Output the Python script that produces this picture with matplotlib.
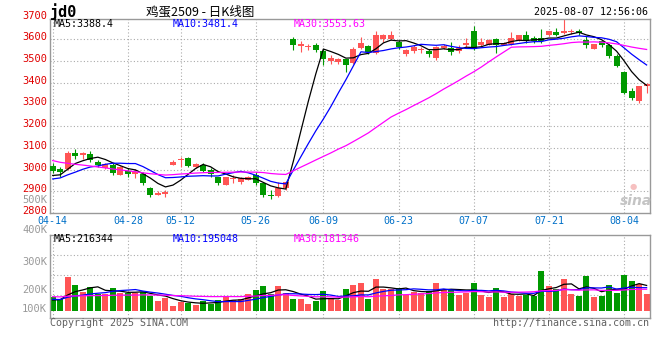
"""Daily K-line chart of egg futures jd2509 with volume panel (sina style)."""
import numpy as np
import pandas as pd
import matplotlib
matplotlib.use("Agg")
import matplotlib.pyplot as plt
from matplotlib.transforms import blended_transform_factory, ScaledTranslation

# trading days 2025-04-14 .. 2025-08-07 (exchange holidays removed)
holidays = ["2025-05-01", "2025-05-02", "2025-05-05", "2025-06-02"]
dates = pd.bdate_range("2025-04-14", "2025-08-07")
dates = dates[~dates.isin(pd.to_datetime(holidays))]
tick_dates = ["04-14", "04-28", "05-12", "05-26", "06-09", "06-23", "07-07", "07-21", "08-04"]

open_ = [3017, 3003, 3002, 3078, 3065, 3072, 3036, 3006, 3022, 2976,
         2994, 2979, 2980, 2914, 2881, 2887, 3019, 3043, 3052, 3014,
         3022, 2999, 2964, 2927, 2956, 2945, 2953, 2976, 2937, 2884,
         2879, 2914, 3603, 3571, 3564, 3575, 3545, 3499, 3496, 3508,
         3493, 3560, 3569, 3539, 3603, 3603, 3588, 3534, 3545, 3549,
         3546, 3514, 3560, 3560, 3545, 3572, 3637, 3572, 3575, 3601,
         3575, 3580, 3598, 3618, 3606, 3606, 3618, 3634, 3629, 3634,
         3641, 3598, 3557, 3591, 3575, 3525, 3450, 3364, 3315, 3384]
high = [3029, 3014, 3086, 3094, 3080, 3086, 3045, 3032, 3029, 3016,
        3006, 3002, 2991, 2922, 2902, 2907, 3045, 3056, 3057, 3029,
        3029, 3006, 2968, 2966, 2973, 2968, 2972, 2991, 2945, 2907,
        2945, 2945, 3611, 3592, 3578, 3582, 3557, 3529, 3514, 3511,
        3565, 3611, 3572, 3641, 3626, 3641, 3595, 3557, 3572, 3565,
        3557, 3569, 3580, 3588, 3572, 3606, 3664, 3606, 3603, 3606,
        3588, 3634, 3621, 3637, 3614, 3649, 3640, 3652, 3693, 3649,
        3647, 3614, 3580, 3598, 3578, 3532, 3453, 3376, 3387, 3399]
low = [2984, 2965, 2996, 3048, 3048, 3036, 3014, 3002, 2976, 2974,
       2965, 2961, 2927, 2873, 2881, 2872, 3019, 3014, 3014, 3006,
       2991, 2968, 2927, 2927, 2937, 2934, 2950, 2930, 2873, 2865,
       2873, 2907, 3549, 3542, 3552, 3542, 3480, 3486, 3488, 3450,
       3488, 3554, 3534, 3534, 3588, 3595, 3557, 3523, 3539, 3539,
       3519, 3503, 3554, 3529, 3539, 3560, 3552, 3563, 3572, 3537,
       3572, 3575, 3594, 3583, 3583, 3583, 3614, 3614, 3624, 3624,
       3621, 3560, 3555, 3563, 3514, 3473, 3348, 3319, 3307, 3353]
close = [2994, 2991, 3078, 3063, 3078, 3045, 3022, 3025, 2984, 3014,
         2979, 2991, 2938, 2881, 2892, 2899, 3033, 3049, 3017, 3026,
         2994, 2979, 2937, 2964, 2960, 2960, 2968, 2937, 2881, 2879,
         2914, 2941, 3572, 3577, 3569, 3549, 3511, 3514, 3511, 3483,
         3557, 3585, 3542, 3618, 3618, 3621, 3565, 3549, 3565, 3554,
         3531, 3565, 3569, 3542, 3560, 3584, 3557, 3588, 3598, 3575,
         3583, 3606, 3618, 3591, 3594, 3591, 3637, 3618, 3640, 3640,
         3629, 3575, 3578, 3572, 3525, 3479, 3353, 3330, 3384, 3396]
volume = [115, 100, 291, 220, 162, 205, 143, 143, 194, 151,
          154, 148, 162, 126, 85, 105, 40, 74, 68, 51,
          85, 57, 91, 126, 91, 97, 143, 177, 211, 143,
          211, 154, 100, 100, 57, 85, 171, 106, 91, 186,
          220, 237, 97, 271, 186, 186, 191, 134, 162, 148,
          171, 237, 177, 186, 134, 154, 237, 134, 120, 194,
          120, 143, 126, 134, 126, 339, 211, 183, 271, 143,
          126, 297, 120, 126, 220, 151, 305, 254, 228, 143]  # thousand lots

# sessions before 04-14, only needed to seed the moving averages
hist_close = [3230, 3215, 3200, 3185, 3170, 3160, 3150, 3140, 3130, 3120,
              3105, 3100, 3000, 2990, 2985, 2975, 2965, 2960, 2950, 2945,
              2945, 2935, 2940, 2945, 2940, 2976, 2948, 2933, 3014]
hist_volume = [150, 120, 140, 135, 160, 125, 118, 142, 130, 128,
               150, 110, 135, 122, 140, 128, 120, 132, 125, 120,
               110, 95, 108, 100, 102, 80, 92, 78, 90]

ma_windows = [5, 10, 30]
price_ma_text = ["MA5:3388.4", "MA10:3481.4", "MA30:3553.63"]
volume_ma_text = ["MA5:216344", "MA10:195048", "MA30:181346"]
price_ticks = list(range(2800, 3800, 100))
volume_tick_text = ["500K", "400K", "300K", "200K", "100K"]

RED = "#ff5555"
GREEN = "#009900"
MA_COLORS = ["black", "#0000ff", "#ff00ff"]
GRID = dict(color="#aaaaaa", linestyle=(0, (1, 2)), linewidth=0.8)
MONO = "DejaVu Sans Mono"
W, H = 660, 360


def moving_avg(hist, vals, n):
    s = pd.Series(list(hist) + list(vals), dtype=float)
    return s.rolling(n).mean().to_numpy()[len(hist):]


def box(l, t, r, b):
    return [l / W, 1 - b / H, (r - l) / W, (b - t) / H]


def ftext(x, y, s, **kw):
    fig.text(x / W, 1 - y / H, s, **kw)


def style_axes(a):
    for sp in a.spines.values():
        sp.set_color("#999999")
        sp.set_linewidth(1.0)
    a.tick_params(length=0)
    a.grid(True, **GRID)
    a.set_axisbelow(True)


fig = plt.figure(figsize=(W / 100, H / 100), dpi=100)
ax = fig.add_axes(box(50, 19, 650, 213))
axv = fig.add_axes(box(50, 235, 650, 318))

x = np.arange(len(close))
o = np.array(open_, dtype=float)
c = np.array(close, dtype=float)
up = c >= o
colors = np.where(up, RED, GREEN)
labels = [d.strftime("%m-%d") for d in dates]
tick_idx = [labels.index(t) for t in tick_dates]

# candles
ax.vlines(x, low, high, colors=colors, linewidth=0.8, zorder=2)
ax.bar(x, np.maximum(np.abs(c - o), 4), bottom=np.minimum(o, c), width=0.8,
       color=colors, linewidth=0, zorder=3)
for n, col in zip(ma_windows, MA_COLORS):
    ax.plot(x, moving_avg(hist_close, close, n), color=col, linewidth=0.9, zorder=4)

ax.set_xlim(-0.36, 79.45)
ax.set_ylim(2800, 3694)
ax.set_yticks(price_ticks[1:-1])
ax.set_yticklabels([])
ax.set_xticks(tick_idx)
ax.set_xticklabels(tick_dates, color="#0070c8", fontsize=7.2, family=MONO)
style_axes(ax)
ax.tick_params(axis="x", pad=2.5)

trans = blended_transform_factory(ax.transAxes, ax.transData) + \
    ScaledTranslation(-0.03, 0.02, fig.dpi_scale_trans)
for v in price_ticks:
    ax.text(0, v, str(v), transform=trans, ha="right", va="center",
            color="#e00000", fontsize=7.5, family=MONO, clip_on=False)

# volume
vol = np.array(volume) * 1000
axv.bar(x, vol, width=0.8, color=colors, linewidth=0, zorder=2)
for n, col in zip(ma_windows, MA_COLORS):
    axv.plot(x, moving_avg(hist_volume, volume, n) * 1000, color=col,
             linewidth=0.9, zorder=3)
vlo, vhi = -62000, 647000
axv.set_xlim(ax.get_xlim())
axv.set_ylim(vlo, vhi)
axv.set_xticks(tick_idx)
axv.set_xticklabels([])
axv.set_yticks([vlo + f * (vhi - vlo) for f in (0.277, 0.518, 0.759)])
axv.set_yticklabels([])
style_axes(axv)

for s, yp in zip(volume_tick_text, [200, 230, 262, 290, 309]):
    ftext(47, yp, s, ha="right", va="center", color="#999999",
          fontsize=7.5, family=MONO)

# legends with latest MA values
for s, xp, col in zip(price_ma_text, [54, 173, 294], MA_COLORS):
    ftext(xp, 24, s, ha="left", va="center", color=col, fontsize=7.2, family=MONO)
for s, xp, col in zip(volume_ma_text, [54, 173, 294], MA_COLORS):
    ftext(xp, 238.5, s, ha="left", va="center", color=col, fontsize=7.2, family=MONO)

# headers and footers
ftext(50, 12, "jd0", ha="left", va="center", fontsize=11, weight="bold", family=MONO)
ftext(200, 11.5, "鸡蛋2509 - 日K线图", ha="center", va="center", fontsize=9,
      family=["Noto Sans CJK SC", "DejaVu Sans"])
ftext(648, 12, "2025-08-07 12:56:06", ha="right", va="center", fontsize=7.2, family=MONO)
ftext(50, 323, "Copyright 2025 SINA.COM", ha="left", va="center",
      color="#606060", fontsize=7.2, family=MONO)
ftext(649, 323, "http://finance.sina.com.cn", ha="right", va="center",
      color="#606060", fontsize=7.2, family=MONO)
ftext(636, 201, "sina", ha="center", va="center", color="#c4c4c4",
      fontsize=10, weight="bold", style="italic")
ftext(633, 186, "●", ha="center", va="center", color="#f6c0c0", fontsize=6)

fig.savefig("out.png", dpi=100, facecolor="white")
